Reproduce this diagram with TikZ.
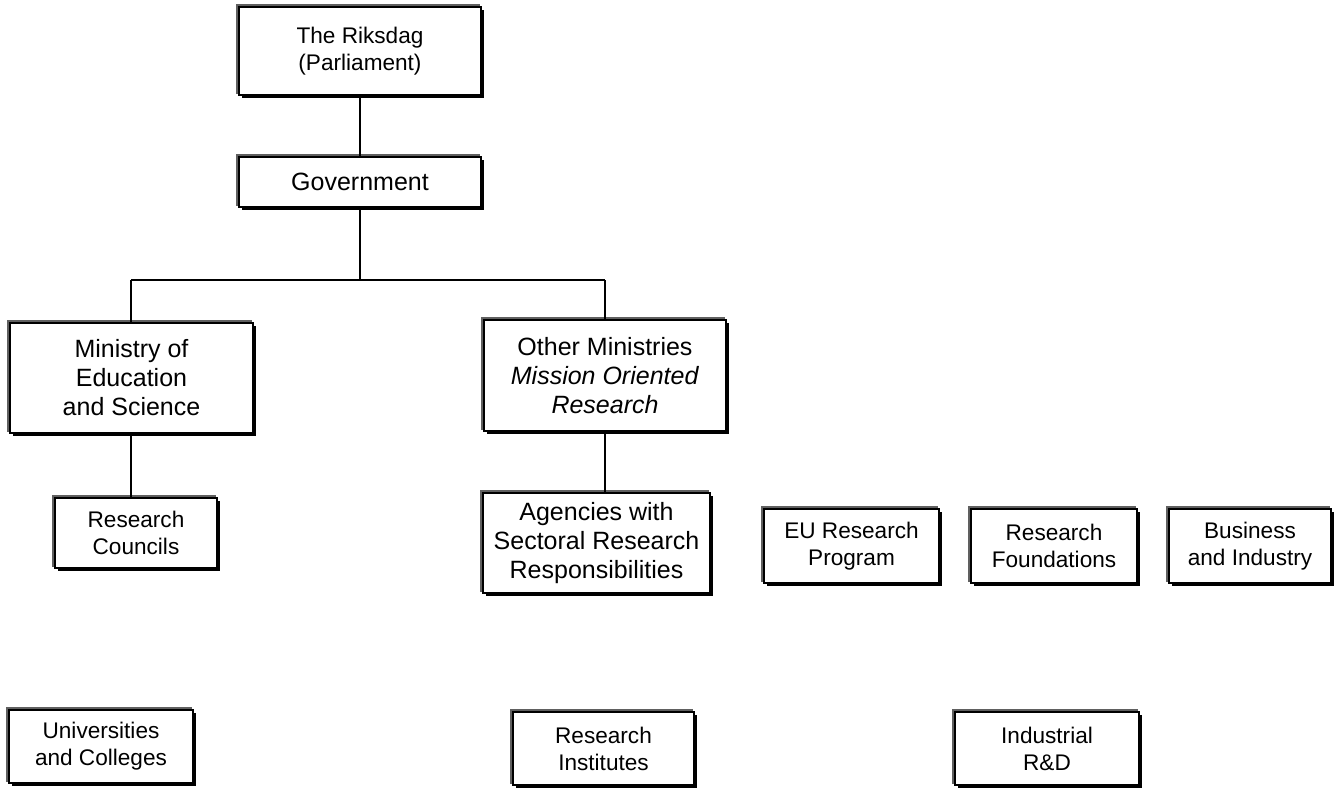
\documentclass[tikz,border=0pt]{standalone}
\usepackage{fontspec}
\setmainfont{Liberation Sans}
\usetikzlibrary{shadows}
\begin{document}
\begin{tikzpicture}[x=1pt,y=-1pt,
  orgbox/.style={draw=black, fill=white, line width=1.3pt, align=center,
    inner sep=0pt, outer sep=0pt,
    general shadow={draw=gray!75!black, line width=1.6pt, fill=none,
      shadow xshift=-2.2pt, shadow yshift=2.2pt},
    general shadow={draw=none, fill=black,
      shadow xshift=2.6pt, shadow yshift=-2.6pt}},
  bigtext/.style={font=\fontsize{25}{29}\selectfont},
  smalltext/.style={font=\fontsize{22.6}{27}\selectfont},
  link/.style={draw=black, line width=1.3pt}]
\useasboundingbox (0,0) rectangle (1335,788);

% upper chain
\node[orgbox, bigtext, smalltext, minimum width=242pt, minimum height=88pt]
  (riks) at (360,51) {The Riksdag\\(Parliament)};
\node[orgbox, bigtext, minimum width=242pt, minimum height=50pt]
  (gov) at (360,182) {Government};

% ministries
\node[orgbox, bigtext, minimum width=243pt, minimum height=110pt]
  (edu) at (131.5,378) {Ministry of\\Education\\and Science};
\node[orgbox, bigtext, minimum width=242pt, minimum height=111pt]
  (other) at (605,375.5) {Other Ministries\\\textit{Mission Oriented}\\\textit{Research}};

% funding bodies
\node[orgbox, smalltext, minimum width=162pt, minimum height=70pt]
  (councils) at (136,533) {Research\\Councils};
\node[orgbox, bigtext, minimum width=227pt, minimum height=100pt]
  (agencies) at (596.5,543) {Agencies with\\Sectoral Research\\Responsibilities};
\node[orgbox, smalltext, minimum width=175pt, minimum height=74pt]
  (eu) at (851.5,546) {EU Research\\Program};
\node[orgbox, smalltext, minimum width=166pt, minimum height=74pt]
  (found) at (1054,546) {Research\\Foundations};
\node[orgbox, smalltext, minimum width=162pt, minimum height=74pt]
  (business) at (1250,546) {Business\\and Industry};

% performers
\node[orgbox, smalltext, minimum width=184pt, minimum height=73pt]
  (univ) at (101,746.5) {Universities\\and Colleges};
\node[orgbox, smalltext, minimum width=181pt, minimum height=73pt]
  (inst) at (603.5,748.5) {Research\\Institutes};
\node[orgbox, smalltext, minimum width=184pt, minimum height=73pt]
  (indus) at (1047,748.5) {Industrial\\R\&D};

% connectors
\coordinate (hub) at (360,280);
\coordinate (jl) at (131,280);
\coordinate (jr) at (605,280);
\draw[link] (riks.south) -- (gov.north);
\draw[link] (gov.south) -- (hub);
\draw[link] (jl) -- (jr);
\draw[link] (jl) -- (jl |- edu.north);
\draw[link] (jr) -- (jr |- other.north);
\draw[link] (jl |- edu.south) -- (jl |- councils.north);
\draw[link] (jr |- other.south) -- (jr |- agencies.north);
\end{tikzpicture}
\end{document}
